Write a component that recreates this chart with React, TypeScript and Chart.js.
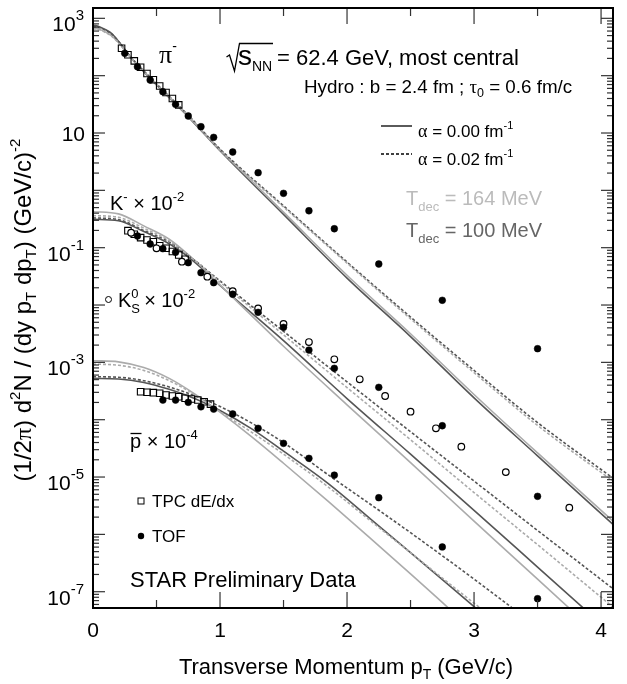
import React, { useEffect, useRef } from "react";
import { Chart, registerables } from "chart.js";

Chart.register(...registerables);

// ---------------- data ----------------
// pi- (x1)
const PION_TPC_PT = [0.225, 0.275, 0.325, 0.375, 0.425, 0.475, 0.525, 0.575, 0.625, 0.675];
const PION_TPC_Y = [300, 232, 181, 140, 109, 85, 66, 51, 40, 31];
const PION_TOF_PT = [0.25, 0.35, 0.45, 0.55, 0.65, 0.75, 0.85, 0.95, 1.1, 1.3, 1.5, 1.7, 1.9, 2.25, 2.75, 3.5];
const PION_TOF_Y = [245, 143, 84, 52.5, 31.6, 19.8, 12.9, 8.4, 4.66, 2.03, 0.887, 0.441, 0.214, 0.0519, 0.0121, 0.00173];

// K- (x 1e-2)
const KAON_TPC_PT = [0.275, 0.325, 0.375, 0.425, 0.475, 0.525, 0.575, 0.625, 0.675, 0.725];
const KAON_TPC_Y = [0.198, 0.172, 0.15, 0.136, 0.127, 0.108, 0.0975, 0.086, 0.0745, 0.0627];
const KAON_TOF_PT = [0.35, 0.45, 0.55, 0.65, 0.75, 0.85, 0.95, 1.1, 1.3, 1.5, 1.7, 1.9, 2.25, 2.75, 3.5];
const KAON_TOF_Y = [0.16, 0.116, 0.096, 0.083, 0.0547, 0.0366, 0.0245, 0.0154, 0.00746, 0.00408, 0.00164, 7.87e-4, 3.67e-4, 7.85e-5, 4.61e-6];

// K0S (x 1e-2)
const K0S_PT = [0.3, 0.5, 0.7, 0.9, 1.1, 1.3, 1.5, 1.7, 1.9, 2.1, 2.3, 2.5, 2.7, 2.9, 3.25, 3.75];
const K0S_Y = [0.182, 0.0975, 0.0569, 0.0312, 0.0175, 0.00875, 0.00467, 0.00226, 0.00113, 5.06e-4, 2.59e-4, 1.38e-4, 7.08e-5, 3.38e-5, 1.22e-5, 2.92e-6];

// pbar (x 1e-4)
const PBAR_TPC_PT = [0.375, 0.425, 0.475, 0.525, 0.575, 0.625, 0.675, 0.725, 0.775, 0.825, 0.875, 0.925];
const PBAR_TPC_Y = [3.08e-4, 3.01e-4, 2.96e-4, 2.89e-4, 2.69e-4, 2.59e-4, 2.52e-4, 2.36e-4, 2.3e-4, 2.2e-4, 2.06e-4, 1.87e-4];
const PBAR_TOF_PT = [0.55, 0.65, 0.75, 0.85, 0.95, 1.1, 1.3, 1.5, 1.7, 1.9, 2.25, 2.75, 3.5];
const PBAR_TOF_Y = [2.2e-4, 2.2e-4, 2.01e-4, 1.68e-4, 1.53e-4, 1.26e-4, 7.08e-5, 3.87e-5, 2.12e-5, 1.08e-5, 4.36e-6, 6.03e-7, 7.55e-8];

// hydro curves
const PION_CURVE_PT = [0, 0.05, 0.1, 0.15, 0.2, 0.3, 0.5, 0.75, 1.0, 1.5, 2.0, 2.5, 3.0, 3.5, 4.1];
const PION_T100_A0 = [759, 716, 631, 537, 398, 204, 69.2, 19.1, 4.9, 0.38, 0.0295, 0.00282, 2.4e-4, 2.34e-5, 1.45e-6];
const PION_T164_A0 = [676, 646, 575, 490, 380, 204, 70.8, 19.5, 5.13, 0.417, 0.0331, 0.00316, 2.75e-4, 2.63e-5, 1.66e-6];
const PION_T100_A2 = [724, 692, 617, 525, 398, 209, 72.4, 20.4, 5.25, 0.537, 0.0562, 0.00617, 7.24e-4, 8.91e-5, 9.33e-6];
const PION_T164_A2 = [661, 631, 562, 479, 372, 204, 70.8, 20.0, 5.01, 0.513, 0.0537, 0.00575, 6.61e-4, 7.94e-5, 8.32e-6];

const KAON_CURVE_PT = [0, 0.2, 0.4, 0.6, 0.8, 1.0, 1.5, 2.0, 2.5, 3.0, 3.5, 4.1];
const KAON_T100_A0 = [0.313, 0.295, 0.191, 0.117, 0.0562, 0.0219, 2.4e-3, 2.34e-4, 2.51e-5, 2.63e-6, 2.69e-7, 1.74e-8];
const KAON_T164_A0 = [0.424, 0.389, 0.24, 0.141, 0.0603, 0.0224, 1.91e-3, 1.82e-4, 1.78e-5, 1.7e-6, 1.66e-7, 1.0e-8];
const KAON_T100_A2 = [0.331, 0.309, 0.2, 0.126, 0.0603, 0.0263, 3.47e-3, 4.57e-4, 6.17e-5, 8.51e-6, 1.17e-6, 1.1e-7];
const KAON_T164_A2 = [0.363, 0.339, 0.219, 0.132, 0.0603, 0.0251, 3.02e-3, 3.63e-4, 4.47e-5, 5.37e-6, 6.61e-7, 5.25e-8];

const PBAR_CURVE_PT = [0, 0.2, 0.4, 0.6, 0.8, 1.0, 1.25, 1.5, 1.85, 2.2, 2.5, 3.0, 3.5];
const PBAR_T164_A0 = [1.07e-3, 1.02e-3, 8.13e-4, 5.25e-4, 2.82e-4, 1.35e-4, 5.01e-5, 1.74e-5, 3.8e-6, 7.94e-7, 2.04e-7, 2.04e-8, 1.9e-9];
const PBAR_T164_A2 = [9.33e-4, 8.91e-4, 7.24e-4, 4.79e-4, 2.75e-4, 1.38e-4, 6.03e-5, 2.51e-5, 6.76e-6, 1.62e-6, 4.79e-7, 6.31e-8, 8.91e-9];
const PBAR_T100_A0 = [5.25e-4, 5.13e-4, 4.47e-4, 3.39e-4, 2.34e-4, 1.45e-4, 6.92e-5, 2.82e-5, 7.76e-6, 1.74e-6, 4.79e-7, 5.5e-8, 6.31e-9];
const PBAR_T100_A2 = [5.62e-4, 5.5e-4, 4.79e-4, 3.72e-4, 2.63e-4, 1.7e-4, 8.71e-5, 3.98e-5, 1.1e-5, 3.16e-6, 1.07e-6, 1.66e-7, 2.4e-8];

// axes
const X_MIN = 0;
const X_MAX = 4.094;
const Y_MIN = 5.2e-8;
const Y_MAX = 1514;
const X_MAJOR_TICKS = [0, 1, 2, 3, 4];
const X_MINOR_TICKS = [0.5, 1.5, 2.5, 3.5];
const X_TICK_LABELS = ["0", "1", "2", "3", "4"];
const Y_LABEL_VALUES = [1e3, 1e1, 1e-1, 1e-3, 1e-5, 1e-7];
const Y_LABEL_EXPONENTS = ["3", "", "-1", "-3", "-5", "-7"];

// ---------------- styling ----------------
const SANS = '"Liberation Sans", Arial, Helvetica, sans-serif';
const SERIF = '"Liberation Serif", "DejaVu Serif", serif';
const LIGHT = "#ababab";
const DARK = "#555555";

const pts = (xs: number[], ys: number[]) => xs.map((x, i) => ({ x, y: ys[i] }));

const curve = (label: string, xs: number[], ys: number[], color: string, dashed: boolean) => ({
  label,
  data: pts(xs, ys),
  showLine: true,
  pointRadius: 0,
  borderColor: color,
  borderWidth: 1.6,
  borderDash: dashed ? [3, 2] : [],
  cubicInterpolationMode: "monotone",
  fill: false,
  order: dashed ? 5 : 6,
});

const filled = (label: string, xs: number[], ys: number[]) => ({
  label,
  data: pts(xs, ys),
  showLine: false,
  pointStyle: "circle",
  pointRadius: 3.4,
  pointBackgroundColor: "#000",
  pointBorderColor: "#000",
  pointBorderWidth: 0.5,
  order: 0,
});

const openCircle = (label: string, xs: number[], ys: number[]) => ({
  label,
  data: pts(xs, ys),
  showLine: false,
  pointStyle: "circle",
  pointRadius: 3.3,
  pointBackgroundColor: "#fff",
  pointBorderColor: "#000",
  pointBorderWidth: 1.2,
  order: 1,
});

const square = (label: string, xs: number[], ys: number[]) => ({
  label,
  data: pts(xs, ys),
  showLine: false,
  pointStyle: "rect",
  pointRadius: 4.6,
  pointBackgroundColor: "rgba(0,0,0,0)",
  pointBorderColor: "#000",
  pointBorderWidth: 1.1,
  order: 2,
});

type Seg = { t: string; s: number; dy?: number; f?: string; noAdv?: boolean };

function drawRich(
  ctx: CanvasRenderingContext2D,
  segs: Seg[],
  x: number,
  y: number,
  align: "left" | "center" | "right",
  color: string
) {
  const widths: number[] = [];
  let total = 0;
  for (const s of segs) {
    ctx.font = `${s.s}px ${s.f || SANS}`;
    const w = ctx.measureText(s.t).width;
    widths.push(w);
    if (!s.noAdv) total += w;
  }
  let cx = align === "left" ? x : align === "right" ? x - total : x - total / 2;
  ctx.fillStyle = color;
  ctx.textAlign = "left";
  ctx.textBaseline = "alphabetic";
  segs.forEach((s, i) => {
    ctx.font = `${s.s}px ${s.f || SANS}`;
    ctx.fillText(s.t, cx, y + (s.dy || 0));
    if (!s.noAdv) cx += widths[i];
  });
  return total;
}

const overlay = {
  id: "overlay",
  afterDraw(chart: any) {
    const ctx: CanvasRenderingContext2D = chart.ctx;
    const a = chart.chartArea;
    const xs = chart.scales.x;
    const ys = chart.scales.y;
    ctx.save();

    const line = (x1: number, y1: number, x2: number, y2: number) => {
      ctx.beginPath();
      ctx.moveTo(x1, y1);
      ctx.lineTo(x2, y2);
      ctx.stroke();
    };

    // ticks
    ctx.strokeStyle = "#333";
    ctx.lineWidth = 1.2;
    ctx.setLineDash([]);
    for (const v of X_MAJOR_TICKS) {
      const px = xs.getPixelForValue(v);
      line(px, a.bottom, px, a.bottom - 16);
      line(px, a.top, px, a.top + 16);
    }
    for (const v of X_MINOR_TICKS) {
      const px = xs.getPixelForValue(v);
      line(px, a.bottom, px, a.bottom - 8);
      line(px, a.top, px, a.top + 8);
    }
    for (let d = -8; d <= 3; d++) {
      for (let m = 1; m <= 9; m++) {
        const v = m * Math.pow(10, d);
        if (v < Y_MIN || v > Y_MAX) continue;
        const py = ys.getPixelForValue(v);
        const len = m === 1 ? 12 : 6;
        line(a.left, py, a.left + len, py);
        line(a.right, py, a.right - len, py);
      }
    }

    // frame
    ctx.strokeStyle = "#000";
    ctx.lineWidth = 2;
    ctx.strokeRect(a.left, a.top, a.right - a.left, a.bottom - a.top);

    // x tick labels
    X_MAJOR_TICKS.forEach((v, i) => {
      drawRich(ctx, [{ t: X_TICK_LABELS[i], s: 21 }], xs.getPixelForValue(v), 637, "center", "#000");
    });

    // y tick labels
    Y_LABEL_VALUES.forEach((v, i) => {
      const py = ys.getPixelForValue(v);
      const e = Y_LABEL_EXPONENTS[i];
      if (e) {
        drawRich(ctx, [{ t: "10", s: 21 }, { t: e, s: 15, dy: -11 }], 84, py + 13, "right", "#000");
      } else {
        drawRich(ctx, [{ t: "10", s: 21 }], 85, py + 7.5, "right", "#000");
      }
    });

    // x title
    drawRich(
      ctx,
      [
        { t: "Transverse Momentum p", s: 22 },
        { t: "T", s: 14, dy: 5 },
        { t: " (GeV/c)", s: 22 },
      ],
      346,
      674,
      "center",
      "#000"
    );

    // y title
    ctx.save();
    ctx.translate(31, 310);
    ctx.rotate(-Math.PI / 2);
    drawRich(
      ctx,
      [
        { t: "(1/2", s: 24 },
        { t: "π", s: 24, f: SERIF },
        { t: ") d", s: 24 },
        { t: "2", s: 15, dy: -11 },
        { t: "N / (dy p", s: 24 },
        { t: "T", s: 15, dy: 5 },
        { t: " dp", s: 24 },
        { t: "T", s: 15, dy: 5 },
        { t: ") (GeV/c)", s: 24 },
        { t: "-2", s: 15, dy: -11 },
      ],
      0,
      0,
      "center",
      "#000"
    );
    ctx.restore();

    // pi- label
    drawRich(ctx, [{ t: "π", s: 26, f: SERIF }, { t: "-", s: 14, dy: -12 }], 159, 63, "left", "#000");

    // sqrt(sNN) title
    ctx.strokeStyle = "#000";
    ctx.lineWidth = 1.3;
    ctx.beginPath();
    ctx.moveTo(226.5, 57);
    ctx.lineTo(229.5, 55);
    ctx.lineTo(234.5, 71);
    ctx.lineTo(239.5, 43.5);
    ctx.lineTo(273, 43.5);
    ctx.stroke();
    drawRich(ctx, [{ t: "s", s: 28 }], 238, 65, "left", "#000");
    drawRich(ctx, [{ t: "NN", s: 14 }], 252, 71, "left", "#000");
    drawRich(ctx, [{ t: "= 62.4 GeV, most central", s: 22 }], 277, 65, "left", "#000");

    // Hydro line
    drawRich(
      ctx,
      [
        { t: "Hydro : b = 2.4 fm ; ", s: 18.8 },
        { t: "τ", s: 18.8, f: SERIF },
        { t: "0", s: 12.5, dy: 4 },
        { t: " = 0.6 fm/c", s: 18.8 },
      ],
      304,
      93,
      "left",
      "#000"
    );

    // alpha legend
    ctx.strokeStyle = "#000";
    ctx.lineWidth = 1.3;
    line(381, 126, 412, 126);
    ctx.setLineDash([3, 2]);
    line(381, 154, 412, 154);
    ctx.setLineDash([]);
    drawRich(
      ctx,
      [{ t: "α", s: 18, f: SERIF }, { t: " = 0.00 fm", s: 17 }, { t: "-1", s: 11, dy: -8 }],
      418,
      137,
      "left",
      "#000"
    );
    drawRich(
      ctx,
      [{ t: "α", s: 18, f: SERIF }, { t: " = 0.02 fm", s: 17 }, { t: "-1", s: 11, dy: -8 }],
      418,
      165,
      "left",
      "#000"
    );

    // T_dec legend
    drawRich(
      ctx,
      [{ t: "T", s: 20 }, { t: "dec", s: 13, dy: 6 }, { t: " = 164 MeV", s: 20 }],
      406,
      205,
      "left",
      "#bbbbbb"
    );
    drawRich(
      ctx,
      [{ t: "T", s: 20 }, { t: "dec", s: 13, dy: 6 }, { t: " = 100 MeV", s: 20 }],
      406,
      237,
      "left",
      "#666666"
    );

    // species labels
    drawRich(
      ctx,
      [{ t: "K", s: 20 }, { t: "-", s: 13, dy: -9 }, { t: " × 10", s: 20 }, { t: "-2", s: 13, dy: -9 }],
      110,
      210,
      "left",
      "#000"
    );
    ctx.strokeStyle = "#000";
    ctx.lineWidth = 1;
    ctx.beginPath();
    ctx.arc(108.5, 299.5, 3, 0, Math.PI * 2);
    ctx.stroke();
    drawRich(
      ctx,
      [
        { t: "K", s: 20 },
        { t: "S", s: 13, dy: 6, noAdv: true },
        { t: "0", s: 13, dy: -9 },
        { t: " × 10", s: 20 },
        { t: "-2", s: 13, dy: -9 },
      ],
      118,
      307,
      "left",
      "#000"
    );
    drawRich(
      ctx,
      [{ t: "p", s: 20 }, { t: " × 10", s: 20 }, { t: "-4", s: 13, dy: -9 }],
      130,
      448,
      "left",
      "#000"
    );
    ctx.lineWidth = 1.3;
    line(130.5, 433.5, 141.5, 433.5);

    // marker legend
    ctx.lineWidth = 1;
    ctx.strokeRect(138, 498, 6, 6);
    drawRich(ctx, [{ t: "TPC dE/dx", s: 17 }], 152, 507, "left", "#000");
    ctx.fillStyle = "#000";
    ctx.beginPath();
    ctx.arc(141, 536, 3.2, 0, Math.PI * 2);
    ctx.fill();
    drawRich(ctx, [{ t: "TOF", s: 17 }], 152, 542, "left", "#000");

    drawRich(ctx, [{ t: "STAR Preliminary Data", s: 22 }], 130, 587, "left", "#000");

    ctx.restore();
  },
};

export default function App() {
  const ref = useRef<HTMLCanvasElement>(null);
  useEffect(() => {
    const canvas = ref.current;
    if (!canvas) return;
    const datasets: any[] = [
      curve("pi T164 a0", PION_CURVE_PT, PION_T164_A0, LIGHT, false),
      curve("pi T164 a2", PION_CURVE_PT, PION_T164_A2, LIGHT, true),
      curve("pi T100 a0", PION_CURVE_PT, PION_T100_A0, DARK, false),
      curve("pi T100 a2", PION_CURVE_PT, PION_T100_A2, DARK, true),
      curve("K T164 a0", KAON_CURVE_PT, KAON_T164_A0, LIGHT, false),
      curve("K T164 a2", KAON_CURVE_PT, KAON_T164_A2, LIGHT, true),
      curve("K T100 a0", KAON_CURVE_PT, KAON_T100_A0, DARK, false),
      curve("K T100 a2", KAON_CURVE_PT, KAON_T100_A2, DARK, true),
      curve("pbar T164 a0", PBAR_CURVE_PT, PBAR_T164_A0, LIGHT, false),
      curve("pbar T164 a2", PBAR_CURVE_PT, PBAR_T164_A2, LIGHT, true),
      curve("pbar T100 a0", PBAR_CURVE_PT, PBAR_T100_A0, DARK, false),
      curve("pbar T100 a2", PBAR_CURVE_PT, PBAR_T100_A2, DARK, true),
      square("pi TPC", PION_TPC_PT, PION_TPC_Y),
      square("K TPC", KAON_TPC_PT, KAON_TPC_Y),
      square("pbar TPC", PBAR_TPC_PT, PBAR_TPC_Y),
      openCircle("K0S", K0S_PT, K0S_Y),
      filled("pi TOF", PION_TOF_PT, PION_TOF_Y),
      filled("K TOF", KAON_TOF_PT, KAON_TOF_Y),
      filled("pbar TOF", PBAR_TOF_PT, PBAR_TOF_Y),
    ];
    const chart = new Chart(canvas, {
      type: "scatter",
      data: { datasets },
      options: {
        animation: false,
        responsive: false,
        devicePixelRatio: 1,
        events: [],
        layout: { padding: { left: 93, right: 14, top: 8, bottom: 76 } },
        plugins: { legend: { display: false }, tooltip: { enabled: false } },
        scales: {
          x: { type: "linear", display: false, min: X_MIN, max: X_MAX },
          y: { type: "logarithmic", display: false, min: Y_MIN, max: Y_MAX },
        },
      } as any,
      plugins: [overlay],
    });
    return () => chart.destroy();
  }, []);
  return (
    <div style={{ position: "fixed", left: 0, top: 0, width: 627, height: 684, background: "#fff" }}>
      <canvas ref={ref} width={627} height={684} style={{ display: "block", width: 627, height: 684 }} />
    </div>
  );
}
